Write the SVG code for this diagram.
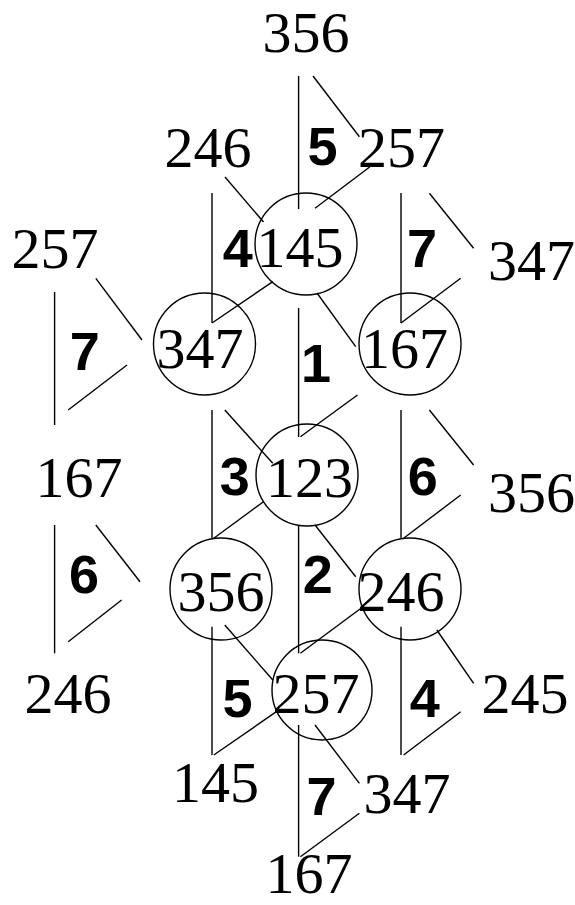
<svg xmlns="http://www.w3.org/2000/svg" width="575" height="905" viewBox="0 0 575 905">
<style>
.n{font-family:"Liberation Serif","Times New Roman",serif;font-size:58px;text-anchor:middle;fill:#000}
.b{font-family:"Liberation Sans",Arial,sans-serif;font-size:54px;font-weight:bold;text-anchor:middle;fill:#000}
.c{fill:none;stroke:#000;stroke-width:1.4}
.e line{stroke:#000;stroke-width:1.4}
</style>
<rect width="575" height="905" fill="#fff"/>
<g id="connectors" class="e">
<line x1="298.6" y1="76" x2="298.6" y2="209"/><line x1="313" y1="76" x2="359.4" y2="136.7"/><line x1="370" y1="166.7" x2="315" y2="208.3"/>
<line x1="212" y1="193" x2="212" y2="323"/><line x1="225" y1="177" x2="263.5" y2="222"/><line x1="272.8" y1="281.7" x2="212" y2="323"/>
<line x1="401" y1="193" x2="401" y2="323"/><line x1="429.4" y1="193.3" x2="473.6" y2="248.3"/><line x1="460.7" y1="278.3" x2="401" y2="323"/>
<line x1="54.6" y1="292" x2="54.6" y2="425"/><line x1="95.8" y1="278.3" x2="142" y2="340"/><line x1="127" y1="365" x2="68.2" y2="410"/>
<line x1="298.6" y1="308" x2="298.6" y2="437"/><line x1="317" y1="293" x2="355.7" y2="346.7"/><line x1="357.5" y1="395" x2="300.4" y2="436.7"/>
<line x1="212" y1="410" x2="212" y2="538"/><line x1="224.8" y1="410" x2="272.8" y2="463.3"/><line x1="263.5" y1="501.7" x2="213.8" y2="538.3"/>
<line x1="401" y1="410" x2="401" y2="538"/><line x1="429.4" y1="410" x2="473.6" y2="465"/><line x1="460.7" y1="495" x2="403.6" y2="538.3"/>
<line x1="298.6" y1="525" x2="298.6" y2="653.3"/><line x1="315" y1="525" x2="355.7" y2="576.7"/><line x1="361" y1="608.3" x2="300.4" y2="653.3"/>
<line x1="54.6" y1="525" x2="54.6" y2="653.3"/><line x1="95.8" y1="525" x2="140" y2="581.7"/><line x1="121.6" y1="600" x2="68.2" y2="641.7"/>
<line x1="212" y1="626.7" x2="212" y2="755"/><line x1="224.8" y1="625" x2="272.8" y2="680"/><line x1="276.4" y1="711.7" x2="213.8" y2="755"/>
<line x1="401" y1="626.7" x2="401" y2="755"/><line x1="436.8" y1="630" x2="473.6" y2="683.3"/><line x1="460.7" y1="711.7" x2="403.6" y2="755"/>
<line x1="298.6" y1="725" x2="298.6" y2="856.7"/><line x1="315" y1="725" x2="359.4" y2="783.3"/><line x1="359.4" y1="813.3" x2="300.4" y2="856.7"/>
</g>
<g id="edge-labels">
<text class="b" x="322.5" y="165">5</text>
<text class="b" x="237.7" y="267">4</text>
<text class="b" x="422" y="267">7</text>
<text class="b" x="84.7" y="370">7</text>
<text class="b" x="316" y="382">1</text>
<text class="b" x="234.8" y="495">3</text>
<text class="b" x="422.8" y="495">6</text>
<text class="b" x="317.8" y="593">2</text>
<text class="b" x="83.9" y="593">6</text>
<text class="b" x="237.5" y="717">5</text>
<text class="b" x="424.8" y="717">4</text>
<text class="b" x="321.6" y="815">7</text>
</g>
<g id="n-356-top"><text class="n" x="306" y="52">356</text></g>
<g id="n-246-top"><text class="n" x="208" y="167">246</text></g>
<g id="n-257-top"><text class="n" x="401.5" y="167">257</text></g>
<g id="n-257-left"><text class="n" x="55" y="268">257</text></g>
<g id="n-145"><circle class="c" cx="306" cy="244" r="51"/><text class="n" x="300" y="267">145</text></g>
<g id="n-347-right"><text class="n" x="531.5" y="280">347</text></g>
<g id="n-347"><circle class="c" cx="204.5" cy="344" r="51"/><text class="n" x="200" y="368">347</text></g>
<g id="n-167"><circle class="c" cx="410" cy="344" r="51"/><text class="n" x="404.5" y="368">167</text></g>
<g id="n-167-left"><text class="n" x="79" y="497">167</text></g>
<g id="n-123"><circle class="c" cx="307" cy="475" r="51"/><text class="n" x="309.6" y="497">123</text></g>
<g id="n-356-right"><text class="n" x="531.5" y="512">356</text></g>
<g id="n-356"><circle class="c" cx="221" cy="589" r="51"/><text class="n" x="221" y="611">356</text></g>
<g id="n-246"><circle class="c" cx="410" cy="589" r="51"/><text class="n" x="401" y="611">246</text></g>
<g id="n-246-left"><text class="n" x="68" y="713">246</text></g>
<g id="n-257"><circle class="c" cx="322" cy="690" r="50"/><text class="n" x="316" y="713">257</text></g>
<g id="n-245"><text class="n" x="525" y="713">245</text></g>
<g id="n-145-bottom"><text class="n" x="215.5" y="802">145</text></g>
<g id="n-347-bottom"><text class="n" x="407" y="813">347</text></g>
<g id="n-167-bottom"><text class="n" x="309" y="893">167</text></g>
</svg>
